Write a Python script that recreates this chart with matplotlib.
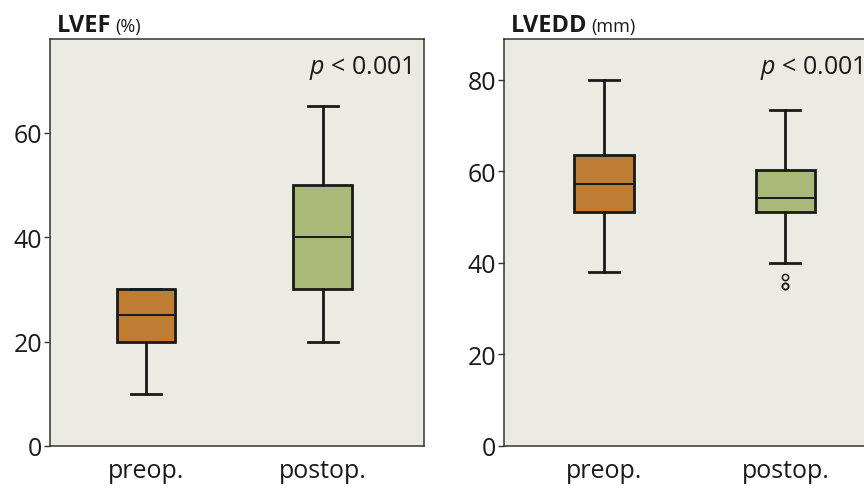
import matplotlib.pyplot as plt

plt.rcParams['font.family'] = ['Open Sans', 'DejaVu Sans']
plt.rcParams['mathtext.fontset'] = 'custom'
plt.rcParams['mathtext.it'] = 'Open Sans:italic'
plt.rcParams['mathtext.rm'] = 'Open Sans'

# groups and box statistics
groups = ['preop.', 'postop.']

lvef_q1 = [20, 30]
lvef_med = [25, 40]
lvef_q3 = [30, 50]
lvef_lo = [10, 20]
lvef_hi = [30, 65]
lvef_fliers = [[], []]

lvedd_q1 = [51, 51]
lvedd_med = [57.2, 54.2]
lvedd_q3 = [63.6, 60.2]
lvedd_lo = [38, 40]
lvedd_hi = [80, 73.3]
lvedd_fliers = [[], [37, 35, 35]]

box_colors = ['#BE7D33', '#A9B978']
bg = '#EBEAE3'
edge = '#1A1A1A'


def make_stats(q1, med, q3, lo, hi, fliers):
    return [dict(q1=q1[i], med=med[i], q3=q3[i], whislo=lo[i], whishi=hi[i],
                 fliers=fliers[i], label=groups[i]) for i in range(len(groups))]


def draw_panel(ax, stats, xlim, ylim, yticks, title, unit, capw):
    ax.set_facecolor(bg)
    bp = ax.bxp(stats, positions=[1, 2], widths=0.33, capwidths=capw,
                patch_artist=True,
                boxprops=dict(edgecolor=edge, linewidth=2.0),
                medianprops=dict(color=edge, linewidth=1.4),
                whiskerprops=dict(color=edge, linewidth=2.0),
                capprops=dict(color=edge, linewidth=2.0),
                flierprops=dict(marker='o', markersize=4.5, markerfacecolor='none',
                                markeredgecolor=edge, markeredgewidth=1.1))
    for patch, c in zip(bp['boxes'], box_colors):
        patch.set_facecolor(c)
    ax.set_xlim(*xlim)
    ax.set_ylim(*ylim)
    ax.set_yticks(yticks)
    ax.set_xticks([1, 2])
    ax.set_xticklabels(groups, fontsize=18, color='#1A1A1A')
    ax.tick_params(axis='x', length=0, pad=9)
    ax.tick_params(axis='y', length=4, width=1, color='#333333', labelsize=18,
                   labelcolor='#1A1A1A', pad=1.5)
    for s in ax.spines.values():
        s.set_color('#333333')
        s.set_linewidth(1.1)
    ax.text(0.968, 0.915, r'$p$ < 0.001', transform=ax.transAxes, ha='right',
            va='baseline', fontsize=18, color='#1A1A1A')
    t1 = ax.text(0.018, 1.0196, title, transform=ax.transAxes, ha='left',
                 va='baseline', fontsize=17, fontweight='bold', color='#1A1A1A')
    return t1, unit


fig = plt.figure(figsize=(8.64, 4.89), dpi=100)
ax1 = fig.add_axes([50 / 864, 42 / 489, 374 / 864, 407.5 / 489])
ax2 = fig.add_axes([504 / 864, 42 / 489, 370 / 864, 407.5 / 489])

titles = []
titles.append(draw_panel(ax1, make_stats(lvef_q1, lvef_med, lvef_q3, lvef_lo, lvef_hi, lvef_fliers),
                         (0.457, 2.574), (0, 78), [0, 20, 40, 60], 'LVEF', '(%)', 0.17))
titles.append(draw_panel(ax2, make_stats(lvedd_q1, lvedd_med, lvedd_q3, lvedd_lo, lvedd_hi, lvedd_fliers),
                         (0.449, 2.488), (0, 89), [0, 20, 40, 60, 80], 'LVEDD', '(mm)', 0.165))

# put the unit right after the bold title, on the same baseline
fig.canvas.draw()
for (t1, unit), ax in zip(titles, [ax1, ax2]):
    bb = t1.get_window_extent()
    x_end = ax.transAxes.inverted().transform((bb.x1 + 4, 0))[0]
    ax.text(x_end, 1.0196, unit, transform=ax.transAxes, ha='left',
            va='baseline', fontsize=13, color='#1A1A1A')

fig.savefig('out.png', dpi=100)
